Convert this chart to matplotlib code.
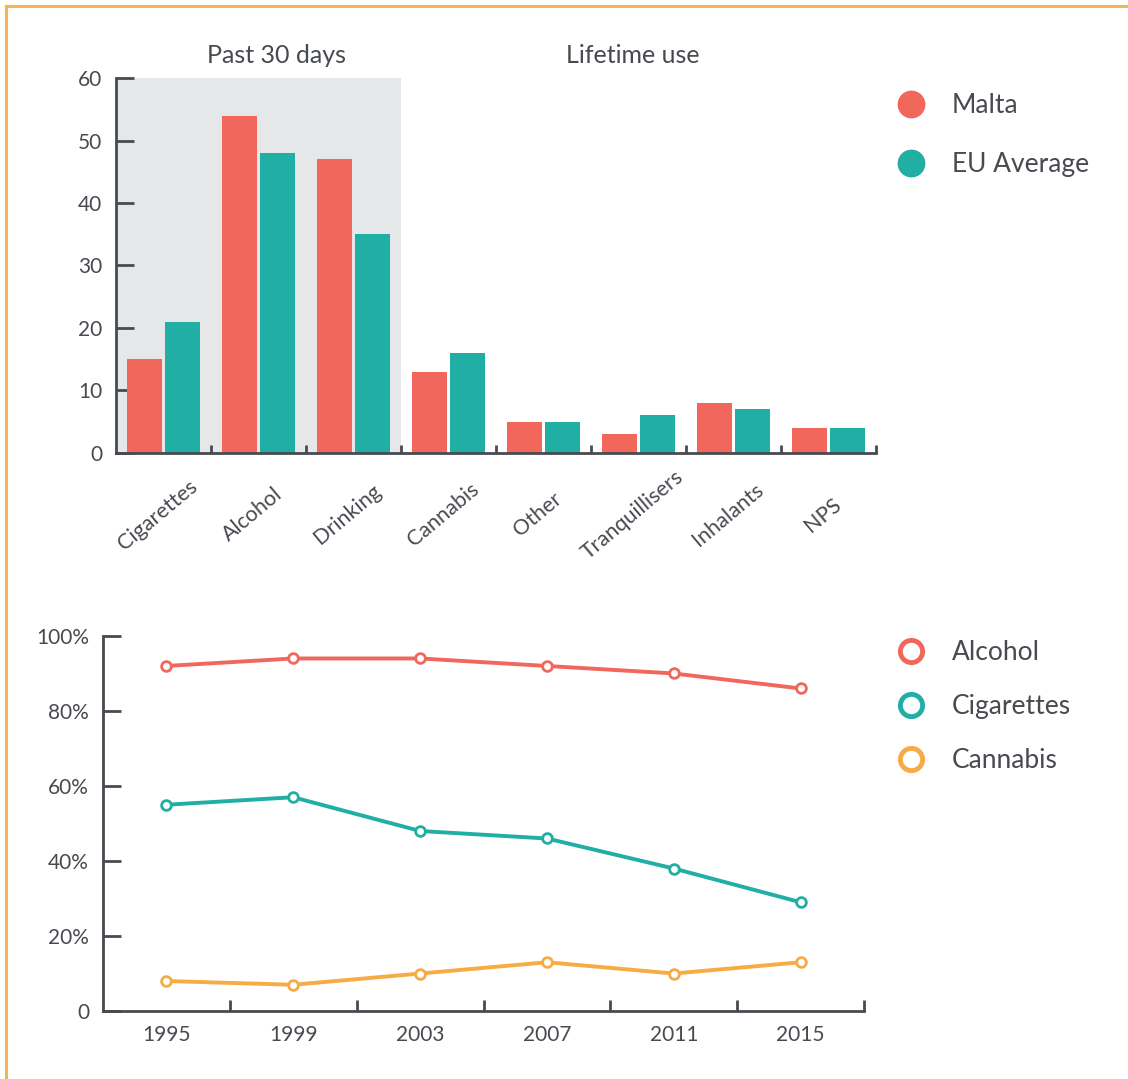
import matplotlib.pyplot as plt
import matplotlib.lines as mlines
from matplotlib.patches import Rectangle

plt.rcParams['font.family'] = ['Lato', 'DejaVu Sans']

RED = '#f2675b'
TEAL = '#20aea5'
ORANGE = '#f7ab45'
GREY = '#e6e7e8'
INK = '#474a4f'

# bar chart data
substances = ['Cigarettes', 'Alcohol', 'Drinking', 'Cannabis', 'Other',
              'Tranquillisers', 'Inhalants', 'NPS']
malta = [15, 54, 47, 13, 5, 3, 8, 4]
eu_avg = [21, 48, 35, 16, 5, 6, 7, 4]
bar_yticks = [0, 10, 20, 30, 40, 50, 60]

# trend data
years = [1995, 1999, 2003, 2007, 2011, 2015]
alcohol = [92, 94, 94, 92, 90, 86]
cigarettes = [55, 57, 48, 46, 38, 29]
cannabis = [8, 7, 10, 13, 10, 13]
line_yticks = [0, 20, 40, 60, 80, 100]
line_ylabels = ['0', '20%', '40%', '60%', '80%', '100%']

fig = plt.figure(figsize=(11.28, 10.79), dpi=100)

# orange frame along top and left
fig.add_artist(mlines.Line2D([0.0055, 1.0], [0.9945, 0.9945], color='#f9b452', lw=2.2,
                             transform=fig.transFigure))
fig.add_artist(mlines.Line2D([0.0055, 0.0055], [0.0, 0.9945], color='#f9b452', lw=2.2,
                             transform=fig.transFigure))


def style_axes(ax):
    for s in ['top', 'right']:
        ax.spines[s].set_visible(False)
    for s in ['left', 'bottom']:
        ax.spines[s].set_color(INK)
        ax.spines[s].set_linewidth(2)
    ax.tick_params(axis='y', direction='in', length=13, width=2, color=INK,
                   labelsize=15, labelcolor=INK, pad=10)


# ---- bars ----
ax1 = fig.add_axes([0.1028, 0.5802, 0.6738, 0.3475])
style_axes(ax1)
x = list(range(len(substances)))
w = 0.37
ax1.bar([i - 0.2 for i in x], malta, width=w, color=RED, zorder=2)
ax1.bar([i + 0.2 for i in x], eu_avg, width=w, color=TEAL, zorder=2)
ax1.add_patch(Rectangle((-0.5, 0), 3, 60, color=GREY, zorder=0, lw=0))
ax1.set_xlim(-0.5, 7.5)
ax1.set_ylim(0, 60)
ax1.set_yticks(bar_yticks)
ax1.set_xticks([])
ax1.set_xticks([i + 0.5 for i in x], minor=True)
ax1.tick_params(axis='x', which='minor', direction='in', length=6, width=2, color=INK)
for i, name in zip(x, substances):
    ax1.text(i - 0.06, -0.165, name, transform=ax1.get_xaxis_transform(), rotation=40,
             ha='center', va='center', fontsize=15.5, color=INK)
ax1.text(1.19, 61.8, 'Past 30 days', ha='center', va='bottom', fontsize=18, color=INK)
ax1.text(4.94, 61.8, 'Lifetime use', ha='center', va='bottom', fontsize=18, color=INK)

h1 = [mlines.Line2D([], [], ls='', marker='o', ms=19, color=c) for c in (RED, TEAL)]
fig.legend(h1, ['Malta', 'EU Average'], loc='upper left', bbox_to_anchor=(0.763, 0.936),
           frameon=False, labelcolor=INK, handletextpad=0.55,
           labelspacing=1.3, prop={'size': 19})

# ---- lines ----
ax2 = fig.add_axes([0.0913, 0.063, 0.6747, 0.3476])
style_axes(ax2)
for vals, c in ((alcohol, RED), (cigarettes, TEAL), (cannabis, ORANGE)):
    ax2.plot(years, vals, color=c, lw=2.8, marker='o', ms=7, mfc='white',
             mew=2, mec=c, zorder=3)
ax2.set_xlim(1993, 2017)
ax2.set_ylim(0, 100)
ax2.set_yticks(line_yticks)
ax2.set_yticklabels(line_ylabels)
ax2.set_xticks(years)
ax2.set_xticklabels([str(y) for y in years], fontsize=15, color=INK)
ax2.tick_params(axis='x', length=0, pad=10)
ax2.set_xticks([y + 2 for y in years], minor=True)
ax2.tick_params(axis='x', which='minor', direction='in', length=8, width=2, color=INK)

h2 = [mlines.Line2D([], [], ls='', marker='o', ms=16, mfc='white', mew=3.5, mec=c)
      for c in (RED, TEAL, ORANGE)]
fig.legend(h2, ['Alcohol', 'Cigarettes', 'Cannabis'], loc='upper left',
           bbox_to_anchor=(0.763, 0.429), frameon=False, labelcolor=INK,
           handletextpad=0.55, labelspacing=1.1, prop={'size': 19})

fig.savefig('out.png', dpi=100)
